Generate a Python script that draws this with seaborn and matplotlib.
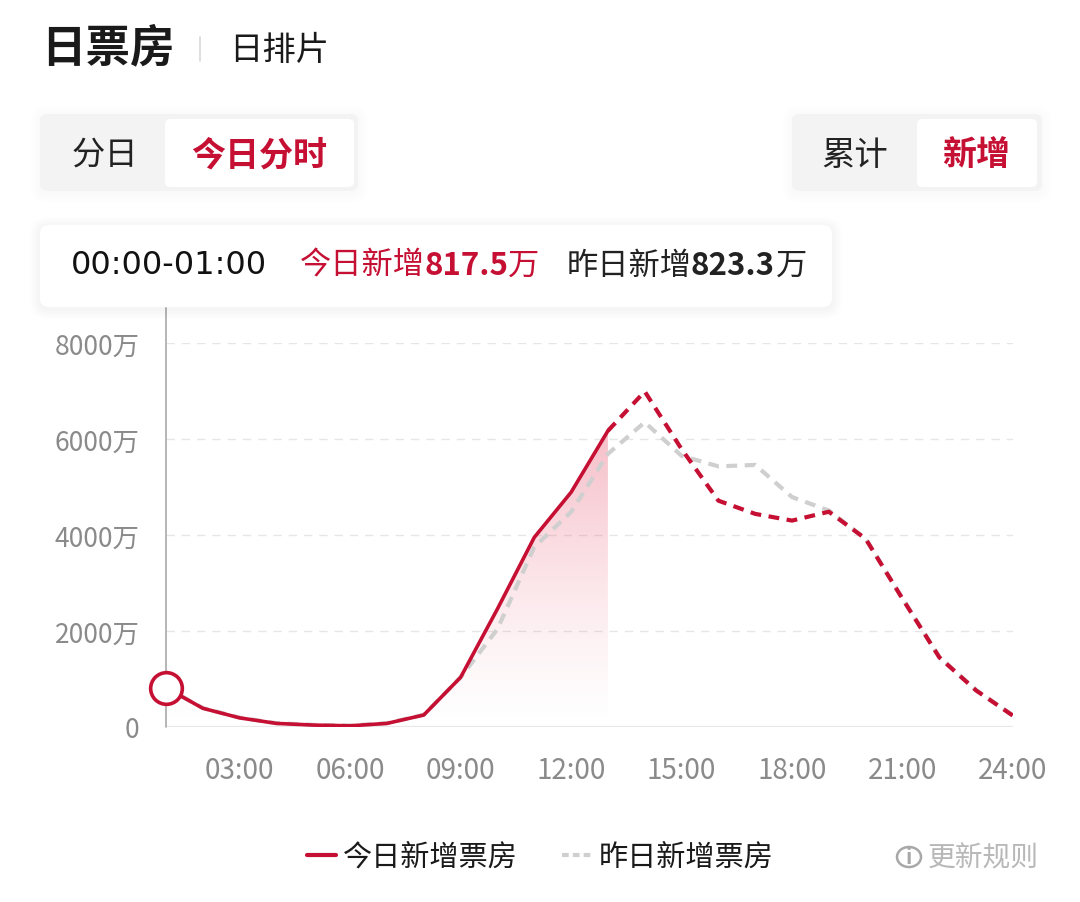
import numpy as np
import pandas as pd
import matplotlib
matplotlib.use("Agg")
import matplotlib.pyplot as plt
import seaborn as sns
from matplotlib.patches import FancyBboxPatch, Circle
from matplotlib.lines import Line2D
from matplotlib.colors import to_rgb

# ---------------- data ----------------
hours = list(range(1, 25))
today_new = [817.5, 390, 190, 75, 40, 25, 75, 250, 1035, 2460, 3950, 4890,
             6170, 6990, 5790, 4715, 4440, 4300, 4485, 3920, 2670, 1450, 760, 235]
yesterday_new = [823.3, 395, 195, 80, 45, 30, 80, 255, 1035, 2040, 3750, 4480,
                 5690, 6350, 5650, 5430, 5460, 4790, 4510, 3920, 2680, 1460, 770, 240]
actual_until = 13  # hours with real data (solid), rest is forecast (dashed)
x_tick_vals = [3, 6, 9, 12, 15, 18, 21, 24]
x_tick_labels = ["03:00", "06:00", "09:00", "12:00", "15:00", "18:00", "21:00", "24:00"]
y_tick_vals = [0, 2000, 4000, 6000, 8000]
y_tick_labels = ["0", "2000万", "4000万", "6000万", "8000万"]
legend_labels = ["今日新增票房", "昨日新增票房"]

RED = "#c50f33"
GRAY_LINE = "#cfcfcf"
TICK_GRAY = "#8a8a8a"

sns.set_theme(style="white")
plt.rcParams["font.family"] = ["Noto Sans CJK SC", "DejaVu Sans"]
plt.rcParams["axes.unicode_minus"] = False

W, H = 1080, 903
fig = plt.figure(figsize=(W / 100, H / 100), dpi=100)
fig.patch.set_facecolor("white")


def fx(x):
    return x / W


def fy(y):
    return 1 - y / H


def rbox(x0, y0, x1, y1, fc, r=8, shadow=0.0, z=1):
    if shadow > 0:
        for d in [10, 8, 6, 4, 2]:
            p = FancyBboxPatch((fx(x0 - d), fy(y1 + d + 2)), fx(x1 - x0 + 2 * d), (y1 - y0 + 2 * d) / H,
                               boxstyle=f"round,pad=0,rounding_size={(r + d) / W}",
                               transform=fig.transFigure, fc="black", ec="none", alpha=shadow, zorder=z)
            fig.add_artist(p)
    p = FancyBboxPatch((fx(x0), fy(y1)), fx(x1 - x0), (y1 - y0) / H,
                       boxstyle=f"round,pad=0,rounding_size={r / W}",
                       transform=fig.transFigure, fc=fc, ec="none", zorder=z + 0.5)
    fig.add_artist(p)


# ---------------- header ----------------
fig.text(fx(41), fy(48), "日票房", fontsize=32, fontweight="bold", color="#1a1a1a", va="center", ha="left")
fig.add_artist(Line2D([fx(200), fx(200)], [fy(38), fy(62)], color="#d8d8d8", lw=1.2, transform=fig.transFigure))
fig.text(fx(229), fy(50), "日排片", fontsize=24, color="#1a1a1a", va="center", ha="left")

# toggle groups
rbox(40, 115, 358, 192, "#f3f3f3", r=8, shadow=0.004)
rbox(165, 120, 354, 188, "white", r=6, z=2)
fig.text(fx(105), fy(155), "分日", fontsize=24, color="#222222", va="center", ha="center", zorder=5)
fig.text(fx(259), fy(155), "今日分时", fontsize=24.5, fontweight="bold", color=RED, va="center", ha="center", zorder=5)

rbox(792, 115, 1042, 192, "#f3f3f3", r=8, shadow=0.004)
rbox(917, 120, 1037, 188, "white", r=6, z=2)
fig.text(fx(855), fy(155), "累计", fontsize=24, color="#222222", va="center", ha="center", zorder=5)
fig.text(fx(976), fy(155), "新增", fontsize=24.5, fontweight="bold", color=RED, va="center", ha="center", zorder=5)

# ---------------- axes ----------------
ax_left, ax_right, ax_top, ax_bottom = 166, 1013, 344, 728
ax = fig.add_axes([fx(ax_left), fy(ax_bottom), fx(ax_right - ax_left), (ax_bottom - ax_top) / H])
ax.set_facecolor("none")

df = pd.DataFrame({"hour": hours, "today": today_new, "yesterday": yesterday_new})
df_act = df[df["hour"] <= actual_until]
df_fc = df[df["hour"] >= actual_until]

# grid lines
for v in y_tick_vals[1:]:
    ax.axhline(v, color="#e6e6e6", lw=1.0, ls=(0, (6, 5)), zorder=0)
ax.axhline(0, color="#e8e8e8", lw=1.6, zorder=0)

# gradient fill under actual part
xs = df_act["hour"].to_numpy(dtype=float)
ys = df_act["today"].to_numpy(dtype=float)
poly = ax.fill_between(xs, ys, 0, color="none", lw=0)
grad = np.linspace(0, 1, 256)
rgb = np.array(to_rgb("#e8546f"))
img = np.zeros((256, 2, 4))
img[..., :3] = rgb
img[..., 3] = ((grad ** 1.3) * 0.38)[:, None]
top_val = max(ys)
im = ax.imshow(img, extent=[xs.min(), xs.max(), 0, top_val], origin="lower", aspect="auto", zorder=1,
               interpolation="bilinear")
path = poly.get_paths()[0]
im.set_clip_path(path, transform=ax.transData)

# yesterday (gray dashed)
sns.lineplot(data=df, x="hour", y="yesterday", ax=ax, color=GRAY_LINE, lw=3.0,
             linestyle=(0, (2.6, 1.8)), zorder=2, legend=False)
# today actual (solid red)
sns.lineplot(data=df_act, x="hour", y="today", ax=ax, color=RED, lw=2.6, zorder=3, legend=False)
# today forecast (dashed red)
sns.lineplot(data=df_fc, x="hour", y="today", ax=ax, color=RED, lw=3.0,
             linestyle=(0, (2.6, 1.8)), zorder=3, legend=False)

# cursor line at first hour
ax.plot([hours[0], hours[0]], [0, 8720], color="#b0b0b0", lw=1.3, clip_on=False, zorder=2)
# highlighted point
ax.scatter([hours[0]], [today_new[0]], s=520, facecolor="white", edgecolor=RED, linewidth=2.6,
           zorder=6, clip_on=False)

ax.set_xlim(1, 24)
ax.set_ylim(0, 8000)
ax.set_xticks(x_tick_vals)
ax.set_xticklabels(x_tick_labels)
ax.set_yticks(y_tick_vals)
ax.set_yticklabels(y_tick_labels)
ax.tick_params(axis="both", length=0, colors=TICK_GRAY)
ax.tick_params(axis="y", pad=19, labelsize=19)
ax.tick_params(axis="x", pad=20, labelsize=20)
for t in ax.get_yticklabels() + ax.get_xticklabels():
    t.set_color(TICK_GRAY)
ax.set_xlabel("")
ax.set_ylabel("")
for s in ax.spines.values():
    s.set_visible(False)
ax.grid(False)

# ---------------- tooltip ----------------
rbox(40, 226, 832, 308, "white", r=10, shadow=0.007, z=8)
fig.text(fx(71), fy(266), "00:00-01:00", fontsize=23, color="#111111", va="center", ha="left", zorder=10,
         family=["DejaVu Sans"])
fig.text(fx(300), fy(266), "今日新增", fontsize=22.5, color=RED, va="center", ha="left", zorder=10)
fig.text(fx(424), fy(266), "817.5", fontsize=22.5, color=RED, fontweight="bold", va="center", ha="left", zorder=10)
fig.text(fx(508), fy(266), "万", fontsize=22.5, color=RED, va="center", ha="left", zorder=10)
fig.text(fx(567), fy(266), "昨日新增", fontsize=22.5, color="#222222", va="center", ha="left", zorder=10)
fig.text(fx(691), fy(266), "823.3", fontsize=22.5, color="#222222", fontweight="bold", va="center", ha="left", zorder=10)
fig.text(fx(776), fy(266), "万", fontsize=22.5, color="#222222", va="center", ha="left", zorder=10)

# ---------------- legend ----------------
handles = [Line2D([], [], color=RED, lw=3),
           Line2D([], [], color=GRAY_LINE, lw=3, linestyle=(0, (1.6, 1.0)))]
leg = fig.legend(handles, legend_labels, loc="center", bbox_to_anchor=(fx(540), fy(858)), ncol=2,
                 frameon=False, fontsize=21, handlelength=1.0, handletextpad=0.25, columnspacing=1.5)
for t in leg.get_texts():
    t.set_color("#1a1a1a")

# update rule
fig.add_artist(Circle((fx(909), fy(858)), 12 / W, transform=fig.transFigure, fc="none", ec="#a8a8a8", lw=1.8))
fig.text(fx(909), fy(858), "i", fontsize=15, color="#a8a8a8", ha="center", va="center", fontweight="bold")
fig.text(fx(928), fy(858), "更新规则", fontsize=20, color="#b8b8b8", ha="left", va="center")

fig.savefig("out.png", dpi=100, facecolor="white")
